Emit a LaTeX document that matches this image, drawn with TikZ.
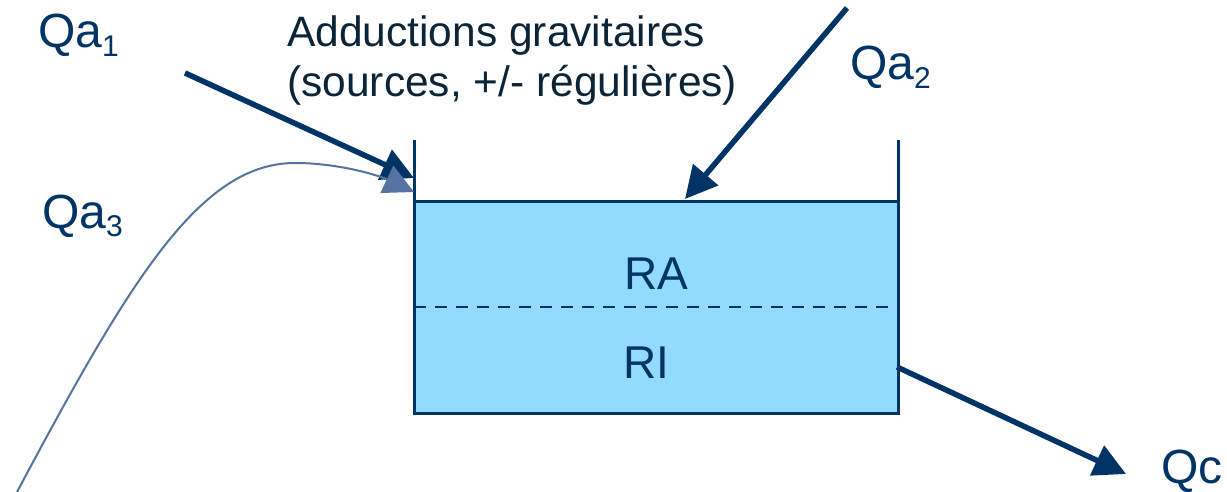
\documentclass[tikz,border=0pt]{standalone}
\usepackage{fontspec}
\setmainfont{Liberation Sans}
\usetikzlibrary{arrows.meta}
\definecolor{navy}{HTML}{003366}
\definecolor{darktext}{HTML}{0C2438}
\definecolor{water}{HTML}{93DAFF}
\definecolor{curvecol}{HTML}{5573A0}
\begin{document}
\begin{tikzpicture}[x=1pt,y=-1pt,
  lbl/.style={anchor=base west,inner sep=0pt,text=navy,font=\fontsize{48}{56}\selectfont},
  inlbl/.style={anchor=base,inner sep=0pt,text=navy,font=\fontsize{46}{54}\selectfont},
  addlbl/.style={anchor=base west,inner sep=0pt,text=darktext,font=\fontsize{42.5}{51}\selectfont},
  flow/.style={draw=navy,line width=5.5pt,-{Triangle[length=32pt,width=32pt]}},
  tankline/.style={draw=navy,line width=3pt},
]
\useasboundingbox (0,0) rectangle (1227,492);
% tank
\coordinate (wlt) at (414,140);
\coordinate (wlb) at (414,413);
\coordinate (wrt) at (898,140);
\coordinate (wrb) at (898,413);
\coordinate (wtl) at (414,202);
\coordinate (wtr) at (898,202);
\coordinate (dl) at (414,307);
\coordinate (dr) at (898,307);
\fill[water] (wtl) rectangle (wrb);
\draw[tankline] (wtl) -- (wtr);
\draw[navy,line width=2.5pt,dash pattern=on 12pt off 9pt] (dl) -- (dr);
\draw[tankline] (wlt) -- (wlb) -- (wrb) -- (wrt);
% labels
\node[lbl] (qa1) at (38,48) {Qa\raisebox{-9pt}{\fontsize{30}{30}\selectfont 1}};
\node[lbl] (qa2) at (850,80) {Qa\raisebox{-9pt}{\fontsize{30}{30}\selectfont 2}};
\node[lbl] (qa3) at (42,228) {Qa\raisebox{-9pt}{\fontsize{30}{30}\selectfont 3}};
\node[lbl] (qc) at (1161,483) {Qc};
\node[addlbl] (add1) at (287,47) {Adductions gravitaires};
\node[addlbl] (add2) at (287,97) {(sources, +/- régulières)};
\node[inlbl] (ra) at (656,289) {RA};
\node[inlbl] (ri) at (646,378) {RI};
% arrows
\coordinate (a1s) at (185,73);
\coordinate (a1e) at (414,178);
\coordinate (a2s) at (847,8);
\coordinate (a2e) at (685,199);
\coordinate (cs) at (897,367);
\coordinate (ce) at (1126,474);
\coordinate (a3s) at (17,492);
\coordinate (a3m) at (295,163);
\coordinate (a3e) at (414,192);
\draw[flow] (a1s) -- (a1e);
\draw[flow] (a2s) -- (a2e);
\draw[flow] (cs) -- (ce);
\draw[curvecol,line width=2pt,-{Triangle[length=30pt,width=30pt]}] (a3s) .. controls (130,280) and (200,163) .. (a3m) .. controls (340,163) and (380,176) .. (a3e);
\end{tikzpicture}
\end{document}
